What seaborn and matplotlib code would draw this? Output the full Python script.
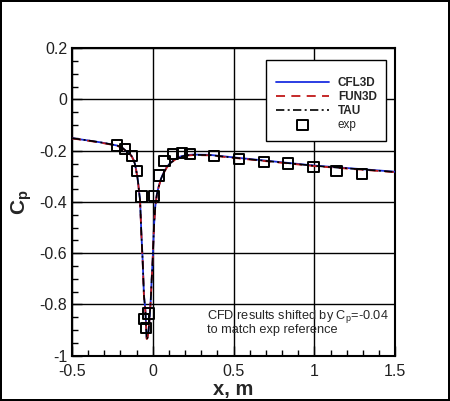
import numpy as np
import pandas as pd
import matplotlib
matplotlib.use("Agg")
import matplotlib.pyplot as plt
from matplotlib.ticker import MultipleLocator, FixedLocator, FixedFormatter
import seaborn as sns

# ---------------- data ----------------
x_cfd = [-0.5, -0.4, -0.327, -0.25, -0.22, -0.19, -0.162, -0.14, -0.129, -0.12,
         -0.112, -0.104, -0.096, -0.09, -0.084, -0.079, -0.071, -0.063, -0.055,
         -0.046, -0.038, -0.032, -0.026, -0.019, -0.013, -0.007, -0.001, 0.007,
         0.015, 0.025, 0.036, 0.05, 0.065, 0.085, 0.106, 0.135, 0.168, 0.21,
         0.25, 0.35, 0.5, 0.75, 1.0, 1.25, 1.5]
cp_cfl3d = [-0.151, -0.160, -0.167, -0.176, -0.180, -0.188, -0.203, -0.214, -0.223,
            -0.235, -0.249, -0.272, -0.301, -0.330, -0.366, -0.392, -0.522, -0.626,
            -0.763, -0.822, -0.932, -0.925, -0.900, -0.840, -0.783, -0.700, -0.626,
            -0.496, -0.418, -0.370, -0.340, -0.310, -0.288, -0.265, -0.249, -0.234,
            -0.223, -0.217, -0.215, -0.216, -0.226, -0.242, -0.258, -0.270, -0.282]
cp_fun3d = [-0.152, -0.161, -0.168, -0.177, -0.181, -0.189, -0.204, -0.215, -0.224,
            -0.236, -0.250, -0.273, -0.302, -0.331, -0.367, -0.394, -0.525, -0.630,
            -0.768, -0.828, -0.935, -0.928, -0.903, -0.843, -0.786, -0.703, -0.628,
            -0.498, -0.420, -0.372, -0.342, -0.312, -0.290, -0.267, -0.251, -0.236,
            -0.225, -0.219, -0.217, -0.218, -0.228, -0.244, -0.260, -0.272, -0.284]
cp_tau = [-0.151, -0.160, -0.167, -0.176, -0.180, -0.188, -0.203, -0.214, -0.223,
          -0.235, -0.249, -0.272, -0.301, -0.330, -0.366, -0.393, -0.524, -0.628,
          -0.766, -0.826, -0.938, -0.930, -0.902, -0.842, -0.785, -0.702, -0.627,
          -0.497, -0.419, -0.371, -0.341, -0.311, -0.289, -0.266, -0.250, -0.235,
          -0.224, -0.218, -0.216, -0.217, -0.227, -0.243, -0.259, -0.271, -0.283]

x_exp = [-0.220, -0.170, -0.129, -0.100, -0.071, -0.055, -0.042, -0.026, 0.007,
         0.040, 0.073, 0.123, 0.180, 0.230, 0.378, 0.531, 0.688, 0.836, 0.993,
         1.137, 1.292]
cp_exp = [-0.180, -0.193, -0.220, -0.279, -0.379, -0.857, -0.893, -0.835, -0.377,
          -0.297, -0.239, -0.214, -0.210, -0.214, -0.220, -0.231, -0.245, -0.250,
          -0.263, -0.278, -0.292]

x_ticks = [-0.5, 0, 0.5, 1, 1.5]
x_ticklabels = ["-0.5", "0", "0.5", "1", "1.5"]
y_ticks = [-1, -0.8, -0.6, -0.4, -0.2, 0, 0.2]
y_ticklabels = ["-1", "-0.8", "-0.6", "-0.4", "-0.2", "0", "0.2"]

# ---------------- style ----------------
sns.set_theme(style="white")
plt.rcParams["font.family"] = ["Liberation Sans", "DejaVu Sans"]
plt.rcParams["mathtext.fontset"] = "custom"
plt.rcParams["mathtext.rm"] = "Liberation Sans"
plt.rcParams["mathtext.bf"] = "Liberation Sans:bold"
plt.rcParams["mathtext.it"] = "Liberation Sans:italic"

fig = plt.figure(figsize=(4.5, 4.01), dpi=100)
fig.patch.set_facecolor("white")
fig.patch.set_edgecolor("black")
fig.patch.set_linewidth(1.5)
ax = fig.add_axes([0.160, 0.113, 0.7185, 0.7667])

df = pd.DataFrame({"x": x_cfd, "CFL3D": cp_cfl3d, "FUN3D": cp_fun3d, "TAU": cp_tau})
sns.lineplot(data=df, x="x", y="CFL3D", ax=ax, color="#1a2ee0", lw=1.3,
             linestyle="-", sort=False, label="CFL3D", zorder=3)
sns.lineplot(data=df, x="x", y="FUN3D", ax=ax, color="#c01818", lw=1.3,
             linestyle=(0, (5, 3.5)), sort=False, label="FUN3D", zorder=4)
sns.lineplot(data=df, x="x", y="TAU", ax=ax, color="black", lw=1.2,
             linestyle=(0, (5, 2, 1.2, 2)), sort=False, label="TAU", zorder=5)
dfe = pd.DataFrame({"x": x_exp, "cp": cp_exp})
sns.scatterplot(data=dfe, x="x", y="cp", ax=ax, marker="s", s=55,
                facecolor="none", edgecolor="black", linewidth=1.4,
                label="exp", zorder=6)

ax.set_xlim(-0.5, 1.5)
ax.set_ylim(-1, 0.2)
ax.xaxis.set_major_locator(FixedLocator(x_ticks))
ax.xaxis.set_major_formatter(FixedFormatter(x_ticklabels))
ax.yaxis.set_major_locator(FixedLocator(y_ticks))
ax.yaxis.set_major_formatter(FixedFormatter(y_ticklabels))
ax.xaxis.set_minor_locator(MultipleLocator(0.1))
ax.yaxis.set_minor_locator(MultipleLocator(0.05))
ax.tick_params(which="both", direction="in", top=False, right=False,
               bottom=True, left=True, colors="black")
ax.tick_params(which="major", length=7, width=1, labelsize=11.5, pad=3.5,
               labelcolor="#202020")
ax.tick_params(axis="x", which="major", pad=6)
ax.tick_params(which="minor", length=4, width=1)
ax.grid(True, which="major", color="black", lw=1.0)
for sp in ax.spines.values():
    sp.set_color("black")
    sp.set_linewidth(1.5)

ax.set_xlabel("x, m", fontsize=14.5, fontweight="bold", labelpad=1)
ax.set_ylabel(r"$\mathbf{C_p}$", fontsize=15, labelpad=4)

leg = ax.legend(loc="upper right", bbox_to_anchor=(0.972, 0.961),
                borderaxespad=0, fancybox=False, framealpha=1,
                edgecolor="black", handlelength=4.5, handletextpad=0.76,
                borderpad=0.8, labelspacing=0.18,
                title=" ", title_fontproperties={"size": 4},
                prop={"family": "Liberation Sans", "weight": "bold", "size": 8.5})
leg.get_frame().set_linewidth(1.0)
for t in leg.get_texts():
    if t.get_text() == "exp":
        t.set_fontweight("normal")

ax.text(0.335, -0.812, "CFD results shifted by C$_\\mathrm{p}$=-0.04\nto match exp reference",
        fontsize=9.2, va="top", ha="left", linespacing=0.95, zorder=7)

fig.savefig("out.png", dpi=100, facecolor="white", edgecolor="black")
